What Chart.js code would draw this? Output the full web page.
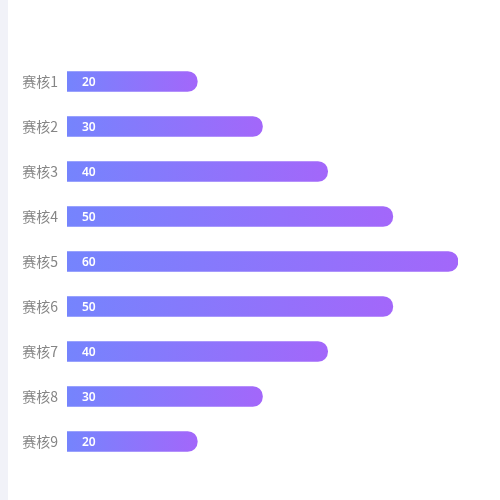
<!DOCTYPE html>
<html>
<head>
<meta charset="utf-8">
<script src="https://cdn.jsdelivr.net/npm/chart.js@4/dist/chart.umd.min.js"></script>
<style>
  body { margin: 0; background: #fff; }
  #strip { position: absolute; left: 0; top: 0; width: 8px; height: 500px; background: #f1f2f8; }
  #box { position: absolute; left: 0; top: 0; width: 500px; height: 500px; }
</style>
</head>
<body>
<div id="box"><canvas id="myChart"></canvas></div>
<div id="strip"></div>
<script>
const categorias = ["赛核1", "赛核2", "赛核3", "赛核4", "赛核5", "赛核6", "赛核7", "赛核8", "赛核9"];
const valores = [20, 30, 40, 50, 60, 50, 40, 30, 20];
const maximo = 60;

// gradiente por barra, de azul a morado
function colorBarra(context) {
  const chart = context.chart;
  const escala = chart.scales && chart.scales.x;
  if (!escala || context.type !== "data") return "#8a74fb";
  const x0 = escala.getPixelForValue(0);
  const x1 = escala.getPixelForValue(valores[context.dataIndex]);
  if (!isFinite(x0) || !isFinite(x1) || x0 === x1) return "#8a74fb";
  const g = chart.ctx.createLinearGradient(x0, 0, x1, 0);
  g.addColorStop(0, "#7584fd");
  g.addColorStop(1, "#a367fa");
  return g;
}

// etiquetas de valor dentro de la barra
const etiquetasValor = {
  id: "etiquetasValor",
  afterDatasetsDraw(chart) {
    const ctx = chart.ctx;
    const meta = chart.getDatasetMeta(0);
    ctx.save();
    ctx.fillStyle = "#ffffff";
    ctx.font = "600 12px 'Noto Sans', sans-serif";
    ctx.textBaseline = "middle";
    ctx.textAlign = "left";
    meta.data.forEach(function (bar, i) {
      ctx.fillText(String(valores[i]), bar.base + 15, bar.y + 1);
    });
    ctx.restore();
  },
};

const canvas = document.getElementById("myChart");
canvas.width = 500;
canvas.height = 500;
const ctx = canvas.getContext("2d");

const data = {
  labels: categorias,
  datasets: [
    {
      data: valores,
      backgroundColor: colorBarra,
      borderRadius: 10,
      borderSkipped: "start",
      barThickness: 20,
    },
  ],
};

const config = {
  type: "bar",
  data: data,
  plugins: [etiquetasValor],
  options: {
    indexAxis: "y",
    responsive: false,
    animation: false,
    layout: { padding: { top: 59, bottom: 36, right: 42, left: 0 } },
    plugins: { legend: { display: false }, tooltip: { enabled: false } },
    scales: {
      x: { display: false, min: 0, max: maximo },
      y: {
        grid: { display: false, drawTicks: false },
        border: { display: false },
        ticks: {
          color: "#858585",
          padding: 9,
          font: { size: 14, family: "'Noto Sans CJK SC', sans-serif" },
        },
        afterFit: function (scale) {
          scale.width = 67;
        },
      },
    },
  },
};

const myChart = new Chart(ctx, config);
</script>
</body>
</html>
